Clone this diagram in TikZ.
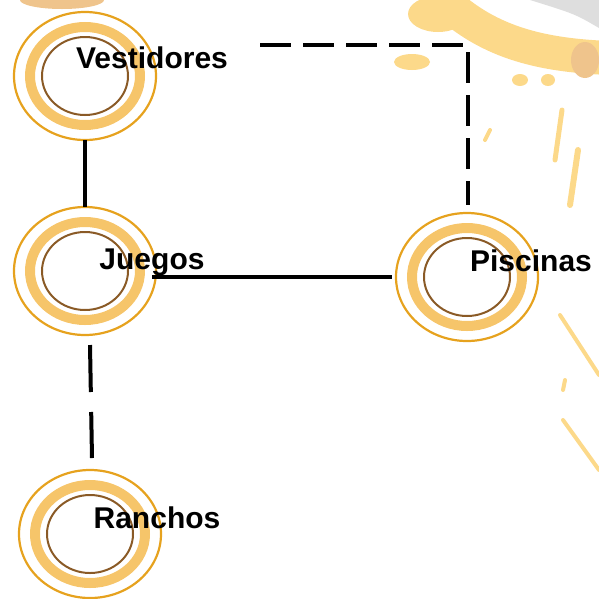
\documentclass[tikz,border=0pt]{standalone}
\usepackage{fontspec}
\setmainfont{Liberation Sans}
\usetikzlibrary{positioning}

\definecolor{ringorange}{HTML}{E6A21E}
\definecolor{bandorange}{HTML}{F6C56A}
\definecolor{ringbrown}{HTML}{8A5A26}
\definecolor{splash}{HTML}{FCD98A}
\definecolor{splashtan}{HTML}{EFC48C}
\definecolor{splashgray}{HTML}{DEDEDE}

\begin{document}
\begin{tikzpicture}[
          x=1pt, y=-1pt,
          outerring/.style={draw=ringorange, line width=2.2pt},
          bandring/.style={draw=bandorange, line width=10pt},
          brownring/.style={draw=ringbrown, line width=2pt},
          lbl/.style={font=\fontsize{30}{32}\selectfont\bfseries, inner sep=0pt},
          solidline/.style={line width=4pt},
          dashline/.style={line width=4pt, dash pattern=on 31pt off 12pt},
          longdash/.style={line width=4pt, dash pattern=on 47pt off 20pt}
        ]
          \useasboundingbox (0,0) rectangle (599,598);
          % background splashes
          \fill[splashtan] (62,0) ellipse [x radius=42, y radius=9];
          \fill[splashgray] (530,0) -- (599,0) -- (599,28) .. controls (575,14) .. (530,0) -- cycle;
          \draw[splash, line width=34pt] (435,-8) .. controls (480,38) and (530,55) .. (610,58);
          \fill[splash] (438,14) ellipse [x radius=30, y radius=18];
          \fill[splash] (412,62) ellipse [x radius=18, y radius=8];
          \fill[splash] (520,80) ellipse [x radius=8, y radius=6];
          \fill[splash] (548,80) ellipse [x radius=7, y radius=6];
          \fill[splashtan] (585,60) ellipse [x radius=14, y radius=18];
          \draw[splash, line width=5pt, line cap=round] (562,110) -- (555,160);
          \draw[splash, line width=6pt, line cap=round] (578,150) -- (570,205);
          \draw[splash, line width=4pt, line cap=round] (490,130) -- (485,140);
          \draw[splash, line width=4pt, line cap=round] (560,315) -- (599,375);
          \draw[splash, line width=4pt, line cap=round] (565,380) -- (563,390);
          \draw[splash, line width=4pt, line cap=round] (563,420) -- (599,470);

          % rings
          \coordinate (vest) at (85,76);
          \coordinate (jueg) at (85,271);
          \coordinate (pisc) at (467,277);
          \coordinate (ranc) at (90,534);
          \foreach \c in {vest,jueg,pisc,ranc}{
            \draw[outerring] (\c) ellipse [x radius=71, y radius=64];
            \draw[bandring] (\c) ellipse [x radius=55, y radius=49];
            \draw[brownring] (\c) ellipse [x radius=43, y radius=39];
          }

          % labels
          \node[lbl] (vesttxt) at (152,58) {Vestidores};
          \node[lbl] (juegtxt) at (152,262) {Juegos};
          \node[lbl] (pisctxt) at (531,261) {Piscinas};
          \node[lbl] (ranctxt) at (157,518) {Ranchos};

          % connectors (yshift is on the page, so up is positive)
          \coordinate (vestend) at ([xshift=175, yshift=31]vest);
          \draw[solidline] ([yshift=-64]vest) -- ([yshift=64]jueg);
          \draw[solidline] ([xshift=67, yshift=-6]jueg) -- ([xshift=-75]pisc);
          \draw[longdash] ([xshift=5, yshift=-74]jueg) -- ([xshift=2, yshift=76]ranc);
          \draw[dashline] (vestend) -| ([xshift=1, yshift=72]pisc);
        \end{tikzpicture}
\end{document}
